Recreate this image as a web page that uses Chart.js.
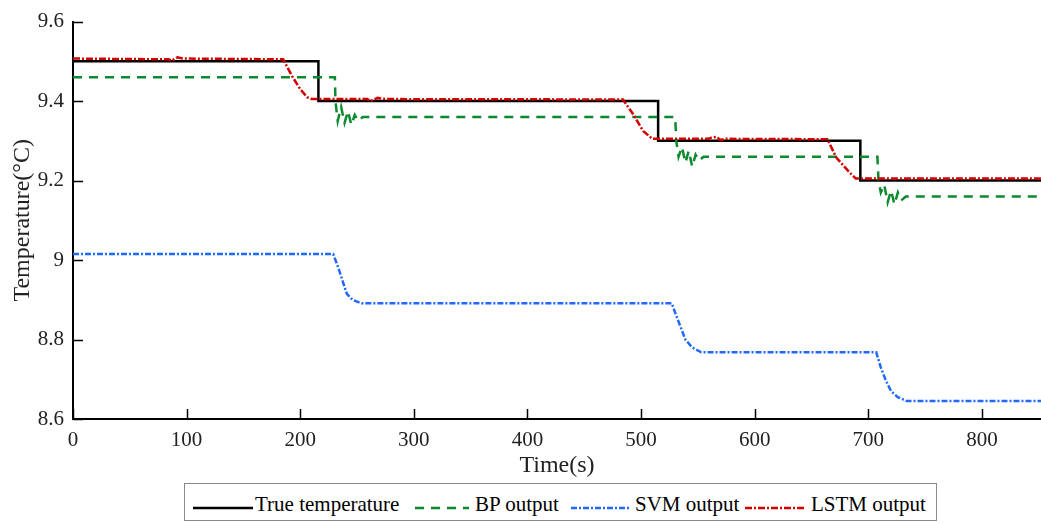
<!DOCTYPE html>
<html>
<head>
<meta charset="utf-8">
<script src="https://cdn.jsdelivr.net/npm/chart.js@4.4.1/dist/chart.umd.min.js"></script>
<style>
  body { margin: 0; background: #fff; font-family: "Liberation Serif", "Times New Roman", serif; }
  #wrap { position: absolute; left: 0; top: 0; width: 1041px; height: 480px; }
  #legend { position: absolute; left: 184px; top: 483px; width: 751px; height: 36px; border: 1px solid #8a8a8a; background: #fff; }
  .item { position: absolute; top: 0; height: 36px; font-size: 21px; line-height: 36px; color: #000; white-space: nowrap; }
  .item svg { position: absolute; top: 0; }
  .item span { position: absolute; top: 2px; }
</style>
</head>
<body>
<div id="wrap"><canvas id="canvas"></canvas></div>
<div id="legend"></div>
<script>
'use strict';

// tick labels
var xTicks = [0, 100, 200, 300, 400, 500, 600, 700, 800];
var yTicks = [8.6, 8.8, 9, 9.2, 9.4, 9.6];

// True temperature
var trueT = [0, 216, 216, 515, 515, 693, 693, 852];
var trueV = [9.5, 9.5, 9.4, 9.4, 9.3, 9.3, 9.2, 9.2];

// BP output
var bpT = [0, 230.5, 231, 233, 236, 239, 242, 245, 248, 251, 255,
  530, 531, 533, 536, 539, 542, 545, 548, 551, 555,
  708, 709, 711, 714, 717, 720, 723, 726, 729, 733, 852];
var bpV = [9.46, 9.46, 9.40, 9.35, 9.385, 9.345, 9.375, 9.34, 9.365, 9.35, 9.36,
  9.36, 9.30, 9.26, 9.285, 9.245, 9.275, 9.235, 9.265, 9.25, 9.26,
  9.26, 9.20, 9.17, 9.19, 9.145, 9.175, 9.14, 9.17, 9.15, 9.16, 9.16];

// SVM output
var svmT = [0, 229, 233, 237, 241, 246, 254, 527, 531, 535, 539, 545, 553, 707, 711, 715, 720, 726, 734, 852];
var svmV = [9.015, 9.015, 8.985, 8.95, 8.915, 8.9, 8.891, 8.891, 8.86, 8.83, 8.80, 8.78, 8.768,
  8.768, 8.73, 8.70, 8.67, 8.655, 8.645, 8.645];

// LSTM output
var lstmT = [0, 84, 87, 92, 97, 185, 193, 200, 206, 210, 259, 262, 268, 275,
  484, 493, 502, 510, 559, 562, 566, 570, 574, 664, 672, 684, 689, 852];
var lstmV = [9.507, 9.505, 9.502, 9.51, 9.507, 9.505, 9.462, 9.43, 9.41, 9.405, 9.405, 9.40, 9.408, 9.405,
  9.404, 9.367, 9.324, 9.305, 9.305, 9.308, 9.31, 9.302, 9.305, 9.304, 9.257, 9.219, 9.205, 9.205];

function pts(t, v) {
  return t.map(function(x, i) { return {x: x, y: v[i]}; });
}

var series = [
  {label: 'True temperature', t: trueT, v: trueV, color: '#000000', width: 2.5, dash: [], order: 4},
  {label: 'BP output', t: bpT, v: bpV, color: '#0b8a2e', width: 2.5, dash: [9, 7], order: 3},
  {label: 'SVM output', t: svmT, v: svmV, color: '#2168ff', width: 2.5, dash: [6, 2, 2, 2], order: 2},
  {label: 'LSTM output', t: lstmT, v: lstmV, color: '#d40000', width: 2.5, dash: [7, 2, 2, 2], order: 1}
];

var SERIF = "'Liberation Serif', 'Times New Roman', serif";
Chart.defaults.font.family = SERIF;
var TICKFONT = {family: SERIF, size: 21};
var TITLEFONT = {family: SERIF, size: 24};

// inward tick marks, MATLAB style
var innerTicks = {
  id: 'innerTicks',
  afterDraw: function(chart) {
    var ctx = chart.ctx, a = chart.chartArea;
    var xs = chart.scales.x, ys = chart.scales.y;
    ctx.save();
    ctx.strokeStyle = '#000';
    ctx.lineWidth = 1.5;
    ctx.beginPath();
    xTicks.forEach(function(v) {
      var px = Math.round(xs.getPixelForValue(v)) + 0.5;
      ctx.moveTo(px, a.bottom);
      ctx.lineTo(px, a.bottom - 10);
    });
    yTicks.forEach(function(v) {
      var py = Math.round(ys.getPixelForValue(v)) + 0.5;
      ctx.moveTo(a.left, py);
      ctx.lineTo(a.left + 10, py);
    });
    ctx.stroke();
    ctx.restore();
  }
};

var ctx = document.getElementById('canvas').getContext('2d');
window.myLine = new Chart(ctx, {
  type: 'line',
  data: {
    datasets: series.map(function(s) {
      return {
        label: s.label,
        data: pts(s.t, s.v),
        borderColor: s.color,
        backgroundColor: s.color,
        borderWidth: s.width,
        borderDash: s.dash,
        pointRadius: 0,
        tension: 0,
        fill: false,
        order: s.order
      };
    })
  },
  options: {
    responsive: true,
    maintainAspectRatio: false,
    animation: false,
    events: [],
    layout: {padding: {top: 20, right: 0, left: 0, bottom: 0}},
    plugins: {legend: {display: false}, tooltip: {enabled: false}},
    scales: {
      x: {
        type: 'linear',
        min: 0,
        max: 852,
        afterBuildTicks: function(scale) { scale.ticks = xTicks.map(function(v) { return {value: v}; }); },
        afterFit: function(scale) { scale.height = 61; },
        grid: {display: false, drawTicks: false},
        border: {display: true, color: '#000', width: 2},
        ticks: {color: '#222', font: TICKFONT, padding: 9, maxRotation: 0},
        title: {display: true, text: 'Time(s)', color: '#222', font: TITLEFONT, padding: {top: 0, bottom: 0}}
      },
      y: {
        type: 'linear',
        min: 8.6,
        max: 9.6,
        afterBuildTicks: function(scale) { scale.ticks = yTicks.map(function(v) { return {value: v}; }); },
        afterFit: function(scale) { scale.width = 73; },
        grid: {display: false, drawTicks: false},
        border: {display: true, color: '#000', width: 2},
        ticks: {color: '#222', font: TICKFONT, padding: 9, callback: function(v) { return String(v); }},
        title: {display: true, text: 'Temperature(°C)', color: '#222', font: TITLEFONT, padding: {top: 8, bottom: 0}}
      }
    }
  },
  plugins: [innerTicks]
});

// legend (HTML, line samples drawn with svg)
var legendPos = [[8, 70], [230, 290], [386, 450], [560, 626]];
var legendLen = [60, 54, 60, 60];
var lg = document.getElementById('legend');
series.forEach(function(s, i) {
  var d = document.createElement('div');
  d.className = 'item';
  d.style.left = legendPos[i][0] + 'px';
  var w = legendLen[i];
  d.innerHTML = '<svg width="' + w + '" height="36"><line x1="0" y1="24" x2="' + w + '" y2="24" stroke="' + s.color +
    '" stroke-width="' + s.width + '" stroke-dasharray="' + (s.dash.length ? s.dash.join(',') : 'none') + '"/></svg>' +
    '<span style="left:' + (legendPos[i][1] - legendPos[i][0]) + 'px">' + s.label + '</span>';
  lg.appendChild(d);
});
</script>
</body>
</html>
